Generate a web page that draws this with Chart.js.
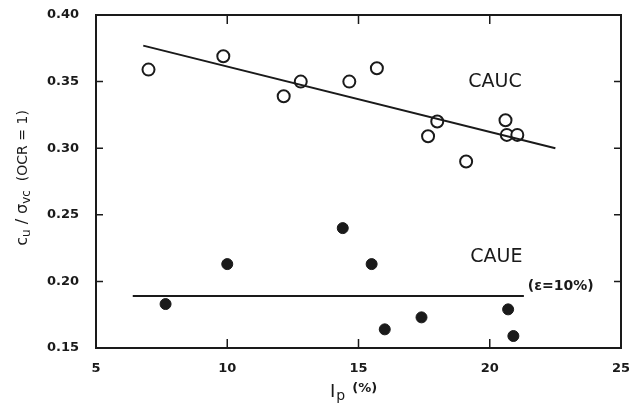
<!DOCTYPE html>
<html>
<head>
<meta charset="utf-8">
<script src="https://cdn.jsdelivr.net/npm/chart.js@4.4.1/dist/chart.umd.min.js"></script>
<style>
  html, body { margin: 0; padding: 0; background: #fff; }
  #wrap { width: 629px; height: 406px; }
</style>
</head>
<body>
<div id="wrap"><canvas id="myChart" width="629" height="406"></canvas></div>
<script>
// data
const caucIp = [7.0, 9.85, 12.15, 12.8, 14.65, 15.7, 17.65, 18.0, 19.1, 20.6, 20.65, 21.05];
const caucRatio = [0.359, 0.369, 0.339, 0.350, 0.350, 0.360, 0.309, 0.320, 0.290, 0.321, 0.310, 0.310];

const caueIp = [7.65, 10.0, 14.4, 15.5, 16.0, 17.4, 20.7, 20.9];
const caueRatio = [0.183, 0.213, 0.240, 0.213, 0.164, 0.173, 0.179, 0.159];

// fitted lines (end points)
const caucFitIp = [6.8, 22.5];
const caucFitRatio = [0.377, 0.300];
const caueFitIp = [6.4, 21.3];
const caueFitRatio = [0.189, 0.189];

const xTicks = [5, 10, 15, 20, 25];
const yTicks = [0.15, 0.20, 0.25, 0.30, 0.35, 0.40];

const toPts = (xs, ys) => xs.map((x, i) => ({ x: x, y: ys[i] }));

const ink = '#1a1a1a';

// frame, inner ticks, titles and text labels
const decor = {
  id: 'decor',
  afterDraw(chart) {
    const { ctx, chartArea: a, scales: { x, y } } = chart;
    ctx.save();
    ctx.strokeStyle = ink;
    ctx.lineWidth = 2;
    ctx.strokeRect(a.left, a.top, a.right - a.left, a.bottom - a.top);

    ctx.lineWidth = 1.5;
    ctx.beginPath();
    xTicks.slice(1, -1).forEach(v => {
      const px = x.getPixelForValue(v);
      ctx.moveTo(px, a.bottom); ctx.lineTo(px, a.bottom - 9);
      ctx.moveTo(px, a.top); ctx.lineTo(px, a.top + 9);
    });
    yTicks.slice(1, -1).forEach(v => {
      const py = y.getPixelForValue(v);
      ctx.moveTo(a.left, py); ctx.lineTo(a.left + 7, py);
      ctx.moveTo(a.right, py); ctx.lineTo(a.right - 7, py);
    });
    ctx.stroke();

    ctx.fillStyle = ink;
    ctx.textBaseline = 'middle';

    // series labels
    ctx.font = '19px "DejaVu Sans"';
    ctx.textAlign = 'center';
    ctx.fillText('CAUC', x.getPixelForValue(20.2), y.getPixelForValue(0.350));
    ctx.fillText('CAUE', x.getPixelForValue(20.25), y.getPixelForValue(0.218));
    ctx.font = 'bold 14px "DejaVu Sans"';
    ctx.textAlign = 'left';
    ctx.fillText('(ε=10%)', x.getPixelForValue(21.45), y.getPixelForValue(0.196));

    // x title: I_p (%)
    ctx.font = '18px "DejaVu Sans"';
    ctx.textAlign = 'left';
    let tx = 330, ty = 392;
    ctx.fillText('I', tx, ty);
    tx += ctx.measureText('I').width + 1;
    ctx.font = '14px "DejaVu Sans"';
    ctx.fillText('p', tx, ty + 4);
    tx += ctx.measureText('p').width + 7;
    ctx.font = 'bold 13px "DejaVu Sans"';
    ctx.fillText('(%)', tx, ty - 3);

    // y title: c_u / σ_vc (OCR = 1)
    ctx.translate(23, 178);
    ctx.rotate(-Math.PI / 2);
    const parts = [
      ['c', '16px', 0], ['u', '12px', 4], [' / ', '16px', 0], ['σ', '16px', 0],
      ['vc', '12px', 4], ['  (OCR = 1)', '14px', 0]
    ];
    let w = 0;
    parts.forEach(p => { ctx.font = p[1] + ' "DejaVu Sans"'; w += ctx.measureText(p[0]).width; });
    let cx = -w / 2;
    parts.forEach(p => {
      ctx.font = p[1] + ' "DejaVu Sans"';
      ctx.fillText(p[0], cx, p[2]);
      cx += ctx.measureText(p[0]).width;
    });
    ctx.restore();
  }
};

const ctx = document.getElementById('myChart').getContext('2d');

new Chart(ctx, {
  type: 'scatter',
  data: {
    datasets: [
      {
        label: 'CAUC fit',
        type: 'line',
        data: toPts(caucFitIp, caucFitRatio),
        borderColor: ink,
        borderWidth: 2,
        pointRadius: 0,
        fill: false
      },
      {
        label: 'CAUE fit',
        type: 'line',
        data: toPts(caueFitIp, caueFitRatio),
        borderColor: ink,
        borderWidth: 2,
        pointRadius: 0,
        fill: false
      },
      {
        label: 'CAUC',
        data: toPts(caucIp, caucRatio),
        pointStyle: 'circle',
        pointRadius: 6,
        pointBorderWidth: 2,
        pointBackgroundColor: '#fff',
        pointBorderColor: ink
      },
      {
        label: 'CAUE',
        data: toPts(caueIp, caueRatio),
        pointStyle: 'circle',
        pointRadius: 5.5,
        pointBorderWidth: 1,
        pointBackgroundColor: ink,
        pointBorderColor: ink
      }
    ]
  },
  options: {
    responsive: false,
    animation: false,
    layout: { padding: { top: 15, right: 8, left: 0, bottom: 0 } },
    plugins: {
      legend: { display: false },
      tooltip: { enabled: false }
    },
    scales: {
      x: {
        type: 'linear',
        min: 5,
        max: 25,
        afterFit: s => { s.height = 58; s.paddingLeft = 0; s.paddingRight = 0; },
        afterBuildTicks: s => { s.ticks = xTicks.map(v => ({ value: v })); },
        grid: { display: false, drawTicks: false },
        border: { display: false },
        ticks: { color: ink, font: { family: 'DejaVu Sans', size: 13, weight: 'bold' }, padding: 13, maxRotation: 0 }
      },
      y: {
        type: 'linear',
        min: 0.15,
        max: 0.40,
        afterFit: s => { s.width = 96; s.paddingTop = 0; s.paddingBottom = 0; },
        afterBuildTicks: s => { s.ticks = yTicks.map(v => ({ value: v })); },
        grid: { display: false, drawTicks: false },
        border: { display: false },
        ticks: {
          color: ink,
          font: { family: 'DejaVu Sans', size: 13, weight: 'bold' },
          padding: 17,
          callback: v => v.toFixed(2)
        }
      }
    }
  },
  plugins: [decor]
});
</script>
</body>
</html>
